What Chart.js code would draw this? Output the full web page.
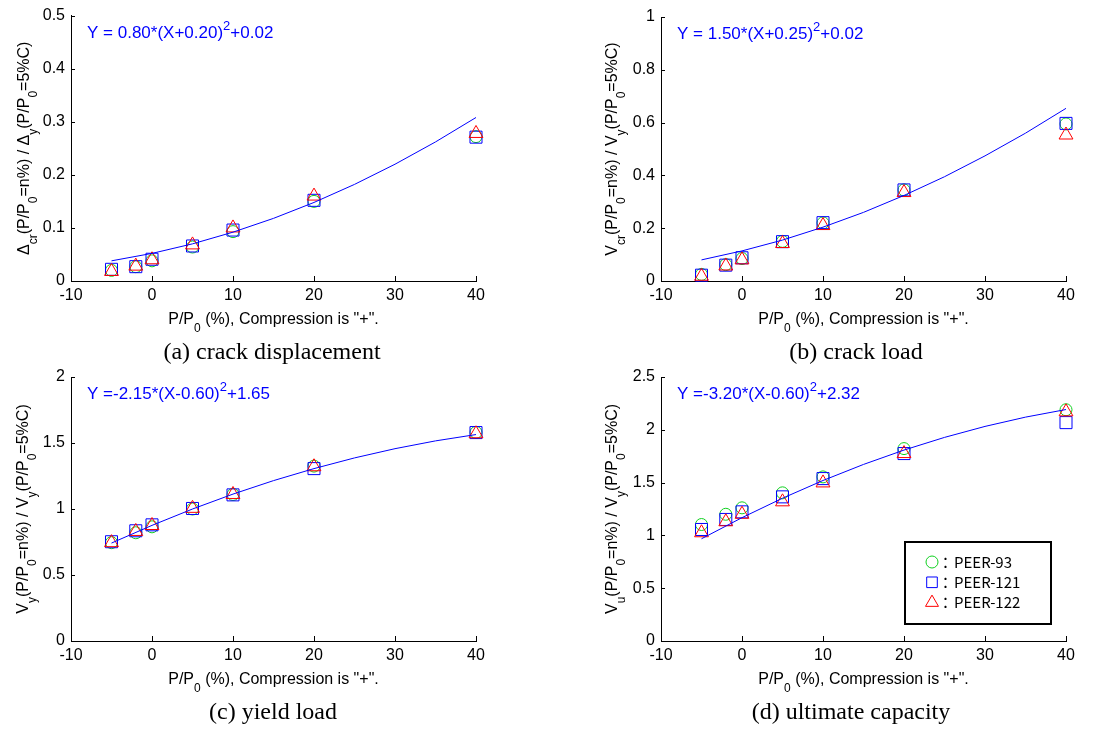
<!DOCTYPE html>
<html>
<head>
<meta charset="utf-8">
<script src="https://cdn.jsdelivr.net/npm/chart.js@4/dist/chart.umd.min.js"></script>
<style>
  html, body { margin: 0; padding: 0; background: #fff; }
  #wrap { position: relative; width: 1114px; height: 729px; }
  #wrap canvas { position: absolute; left: 0; top: 0; }
</style>
</head>
<body>
<div id="wrap">
  <canvas id="chartA" width="1114" height="729"></canvas>
  <canvas id="chartB" width="1114" height="729"></canvas>
  <canvas id="chartC" width="1114" height="729"></canvas>
  <canvas id="chartD" width="1114" height="729"></canvas>
</div>
<script>
// axial load ratio P/P0 (%) of the tested cases
const axialRatio = [-5, -2, 0, 5, 10, 20, 40];
// x positions where the fitted curves were read
const fitX = [-5, 0, 5, 10, 15, 20, 25, 30, 35, 40];

const seriesNames = ["PEER-93", "PEER-121", "PEER-122"];

// (a) crack displacement
const crackDisp93 = [0.020, 0.027, 0.038, 0.064, 0.093, 0.150, 0.272];
const crackDisp121 = [0.022, 0.027, 0.041, 0.066, 0.096, 0.152, 0.271];
const crackDisp122 = [0.018, 0.028, 0.040, 0.068, 0.100, 0.160, 0.278];
const crackDispFit = [0.038, 0.052, 0.070, 0.092, 0.118, 0.148, 0.182, 0.220, 0.262, 0.308];

// (b) crack load
const crackLoad93 = [0.025, 0.062, 0.085, 0.150, 0.220, 0.345, 0.595];
const crackLoad121 = [0.022, 0.060, 0.088, 0.149, 0.221, 0.345, 0.597];
const crackLoad122 = [0.018, 0.057, 0.080, 0.142, 0.210, 0.335, 0.553];
const crackLoadFit = [0.080, 0.114, 0.155, 0.204, 0.260, 0.324, 0.395, 0.474, 0.560, 0.654];

// (c) yield load
const yieldLoad93 = [0.745, 0.820, 0.865, 1.000, 1.110, 1.325, 1.580];
const yieldLoad121 = [0.752, 0.835, 0.880, 1.004, 1.107, 1.306, 1.579];
const yieldLoad122 = [0.745, 0.830, 0.875, 1.005, 1.110, 1.320, 1.570];
const yieldLoadFit = [0.742, 0.876, 1.000, 1.113, 1.215, 1.306, 1.387, 1.457, 1.516, 1.564];

// (d) ultimate capacity
const ultimate93 = [1.103, 1.200, 1.261, 1.403, 1.554, 1.822, 2.190];
const ultimate121 = [1.056, 1.151, 1.223, 1.365, 1.538, 1.775, 2.068];
const ultimate122 = [1.025, 1.129, 1.200, 1.318, 1.497, 1.775, 2.170];
const ultimateFit = [0.968, 1.168, 1.352, 1.520, 1.672, 1.808, 1.928, 2.032, 2.120, 2.192];

const GREEN = "#10d020";
const BLUE = "#0000ff";
const RED = "#ff0000";
const SANS = "'Liberation Sans', Arial, sans-serif";

Chart.defaults.font.family = SANS;
Chart.defaults.font.size = 16;
Chart.defaults.color = "#000";

const toPoints = (xs, ys) => xs.map((x, i) => ({ x: x, y: ys[i] }));

// text with _{sub} and ^{sup}
function parseRich(str) {
  const parts = [];
  const re = /([_^])\{([^}]*)\}/g;
  let last = 0, m;
  while ((m = re.exec(str))) {
    if (m.index > last) parts.push({ t: str.slice(last, m.index), s: 0 });
    parts.push({ t: m[2], s: m[1] === "_" ? 1 : -1 });
    last = re.lastIndex;
  }
  if (last < str.length) parts.push({ t: str.slice(last), s: 0 });
  return parts;
}

function drawRich(ctx, str, x, y, size, color, align) {
  const parts = parseRich(str);
  const small = Math.round(size * 0.75);
  const fontOf = (p) => `${p.s ? small : size}px ${SANS}`;
  let total = 0;
  parts.forEach((p) => {
    ctx.font = fontOf(p);
    p.w = ctx.measureText(p.t).width;
    total += p.w;
  });
  let cx = align === "center" ? x - total / 2 : x;
  ctx.fillStyle = color;
  ctx.textAlign = "left";
  ctx.textBaseline = "alphabetic";
  parts.forEach((p) => {
    ctx.font = fontOf(p);
    const dy = p.s === 1 ? size * 0.5 : p.s === -1 ? -size * 0.45 : 0;
    ctx.fillText(p.t, cx, y + dy);
    cx += p.w;
  });
}

function drawMarker(ctx, style, x, y, r) {
  ctx.beginPath();
  if (style === "circle") {
    ctx.arc(x, y, r, 0, Math.PI * 2);
  } else if (style === "rect") {
    const s = r * Math.SQRT1_2;
    ctx.rect(x - s, y - s, 2 * s, 2 * s);
  } else {
    ctx.moveTo(x, y - r);
    ctx.lineTo(x + r * 0.866, y + r / 2);
    ctx.lineTo(x - r * 0.866, y + r / 2);
    ctx.closePath();
  }
  ctx.stroke();
}

const panelText = {
  id: "panelText",
  afterDraw(chart, args, opts) {
    const { ctx, chartArea: a, scales } = chart;
    ctx.save();

    // inward tick marks
    ctx.strokeStyle = "#000";
    ctx.lineWidth = 1;
    ctx.beginPath();
    scales.x.ticks.forEach((t) => {
      const px = Math.round(scales.x.getPixelForValue(t.value)) + 0.5;
      ctx.moveTo(px, a.bottom);
      ctx.lineTo(px, a.bottom - 5);
    });
    scales.y.ticks.forEach((t) => {
      const py = Math.round(scales.y.getPixelForValue(t.value)) + 0.5;
      ctx.moveTo(a.left, py);
      ctx.lineTo(a.left + 4, py);
    });
    ctx.stroke();

    // fitted equation
    drawRich(ctx, opts.equation, a.left + 16, a.top + 22, 17, BLUE, "left");

    // x title
    drawRich(ctx, "P/P_{0} (%), Compression is \"+\".", (a.left + a.right) / 2, a.bottom + 43, 16, "#000", "center");

    // y title
    ctx.save();
    ctx.translate(opts.yTitleX, (a.top + a.bottom) / 2);
    ctx.rotate(-Math.PI / 2);
    drawRich(ctx, opts.yTitle, 0, 6, 16, "#000", "center");
    ctx.restore();

    // caption
    ctx.font = "24px 'Liberation Serif', 'Times New Roman', serif";
    ctx.fillStyle = "#000";
    ctx.textAlign = "center";
    ctx.textBaseline = "alphabetic";
    ctx.fillText(opts.caption, opts.captionX, a.bottom + 78);

    // legend box
    if (opts.legend) {
      const L = opts.legend;
      ctx.lineWidth = 2;
      ctx.strokeStyle = "#000";
      ctx.strokeRect(L.x, L.y, L.w, L.h);
      const markers = chart.data.datasets.filter((d) => d.label);
      markers.forEach((d, i) => {
        const cy = L.y + 20 + i * 20.3;
        ctx.lineWidth = 1;
        ctx.strokeStyle = d.borderColor;
        drawMarker(ctx, d.pointStyle, L.x + 27, cy, d.pointStyle === "circle" ? 6 : 7.5);
        ctx.fillStyle = "#000";
        ctx.font = "15px 'Noto Sans CJK JP', sans-serif";
        ctx.textAlign = "left";
        ctx.textBaseline = "middle";
        ctx.fillText("\uFF1A", L.x + 33, cy);
        ctx.fillText(d.label, L.x + 49, cy);
      });
    }
    ctx.restore();
  },
};

function makePanel(id, p) {
  const area = p.area;
  return new Chart(document.getElementById(id), {
    type: "scatter",
    data: {
      datasets: [
        {
          type: "line",
          data: toPoints(fitX, p.fit),
          borderColor: BLUE,
          borderWidth: 1,
          pointRadius: 0,
          tension: 0,
          fill: false,
          order: 0,
        },
        {
          label: seriesNames[0],
          data: toPoints(axialRatio, p.s93),
          pointStyle: "circle",
          pointRadius: 6,
          borderColor: GREEN,
          backgroundColor: "rgba(0,0,0,0)",
          borderWidth: 1,
          clip: false,
          order: 3,
        },
        {
          label: seriesNames[1],
          data: toPoints(axialRatio, p.s121),
          pointStyle: "rect",
          pointRadius: 8.5,
          borderColor: BLUE,
          backgroundColor: "rgba(0,0,0,0)",
          borderWidth: 1,
          clip: false,
          order: 2,
        },
        {
          label: seriesNames[2],
          data: toPoints(axialRatio, p.s122),
          pointStyle: "triangle",
          pointRadius: 8,
          borderColor: RED,
          backgroundColor: "rgba(0,0,0,0)",
          borderWidth: 1,
          clip: false,
          order: 1,
        },
      ],
    },
    options: {
      responsive: false,
      animation: false,
      devicePixelRatio: 1,
      events: [],
      layout: {
        padding: { left: area.left - 60, top: area.top, right: 1114 - area.right, bottom: 0 },
      },
      plugins: {
        legend: { display: false },
        tooltip: { enabled: false },
        panelText: p.text,
      },
      scales: {
        x: {
          type: "linear",
          min: -10,
          max: 40,
          afterFit: (scale) => { scale.height = 729 - area.bottom; },
          grid: { display: false, drawTicks: false },
          border: { display: true, color: "#000", width: 1 },
          ticks: { stepSize: 10, padding: 5, maxRotation: 0, color: "#000" },
        },
        y: {
          type: "linear",
          min: 0,
          max: p.yMax,
          afterFit: (scale) => { scale.width = 60; },
          grid: { display: false, drawTicks: false },
          border: { display: true, color: "#000", width: 1 },
          ticks: {
            stepSize: p.yStep,
            padding: 6,
            color: "#000",
            callback: (v) => String(Math.round(v * 100) / 100),
          },
        },
      },
    },
    plugins: [panelText],
  });
}

makePanel("chartA", {
  area: { left: 71, right: 476, top: 15, bottom: 281 },
  yMax: 0.5, yStep: 0.1,
  s93: crackDisp93, s121: crackDisp121, s122: crackDisp122, fit: crackDispFit,
  text: {
    equation: "Y = 0.80*(X+0.20)^{2}+0.02",
    yTitle: "\u0394_{cr}(P/P_{0}=n%) / \u0394_{y}(P/P_{0}=5%C)",
    yTitleX: 23,
    caption: "(a) crack displacement",
    captionX: 272,
  },
});

makePanel("chartB", {
  area: { left: 661, right: 1066, top: 17, bottom: 281 },
  yMax: 1, yStep: 0.2,
  s93: crackLoad93, s121: crackLoad121, s122: crackLoad122, fit: crackLoadFit,
  text: {
    equation: "Y = 1.50*(X+0.25)^{2}+0.02",
    yTitle: "V_{cr}(P/P_{0}=n%) / V_{y}(P/P_{0}=5%C)",
    yTitleX: 611,
    caption: "(b) crack load",
    captionX: 856,
  },
});

makePanel("chartC", {
  area: { left: 71, right: 476, top: 377, bottom: 641 },
  yMax: 2, yStep: 0.5,
  s93: yieldLoad93, s121: yieldLoad121, s122: yieldLoad122, fit: yieldLoadFit,
  text: {
    equation: "Y =-2.15*(X-0.60)^{2}+1.65",
    yTitle: "V_{y}(P/P_{0}=n%) / V_{y}(P/P_{0}=5%C)",
    yTitleX: 22,
    caption: "(c) yield load",
    captionX: 273,
  },
});

makePanel("chartD", {
  area: { left: 661, right: 1066, top: 377, bottom: 641 },
  yMax: 2.5, yStep: 0.5,
  s93: ultimate93, s121: ultimate121, s122: ultimate122, fit: ultimateFit,
  text: {
    equation: "Y =-3.20*(X-0.60)^{2}+2.32",
    yTitle: "V_{u}(P/P_{0}=n%) / V_{y}(P/P_{0}=5%C)",
    yTitleX: 611,
    caption: "(d) ultimate capacity",
    captionX: 851,
    legend: { x: 905, y: 542, w: 146, h: 82 },
  },
});
</script>
</body>
</html>
